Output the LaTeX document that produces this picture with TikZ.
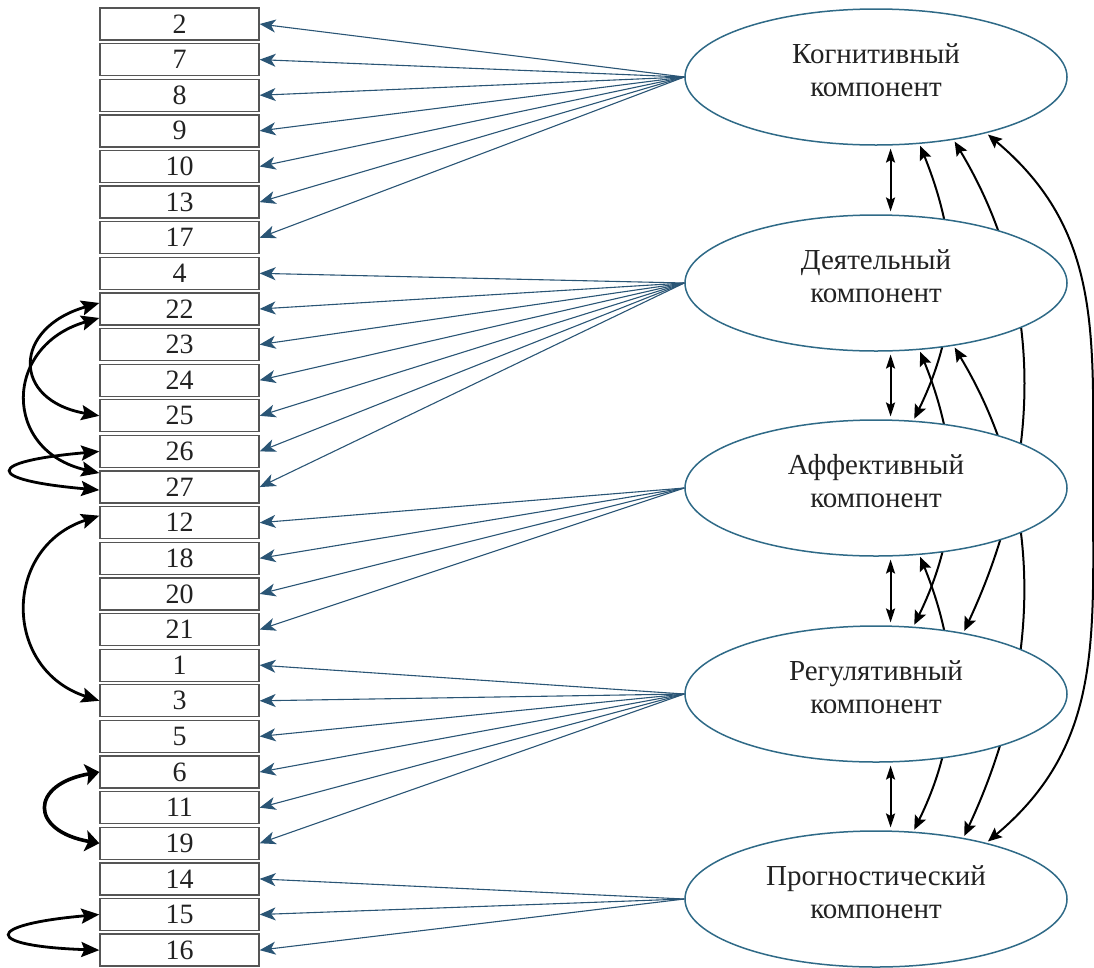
\documentclass[tikz,border=0pt]{standalone}
\usepackage{fontspec}
\setmainfont{Liberation Serif}
\usetikzlibrary{arrows.meta,shapes.geometric}
\pgfdeclarelayer{bg}
\pgfsetlayers{bg,main}
\definecolor{ellc}{HTML}{2F6A87}
\definecolor{loadc}{HTML}{2A5575}
\definecolor{boxc}{HTML}{555555}
\definecolor{txtc}{HTML}{222222}
\begin{document}
\begin{tikzpicture}[x=1pt,y=1pt,
  box/.style={draw=boxc, line width=1.3pt, minimum width=159pt, minimum height=32pt, inner sep=0pt, text=txtc, font=\fontsize{28}{30}\selectfont},
  ell/.style={ellipse, draw=ellc, line width=1.5pt, fill=white, minimum width=382pt, minimum height=136pt, inner sep=0pt, align=center, text=txtc, text depth=14pt, font=\fontsize{29}{33}\selectfont},
  load/.style={draw=loadc, line width=1.1pt, -{Stealth[length=16pt,width=13pt,inset=4.5pt]}},
  cov/.style={black, line width=2pt, {Stealth[length=14pt,width=12pt,inset=2.5pt]}-{Stealth[length=14pt,width=12pt,inset=2.5pt]}, shorten <=2pt, shorten >=2pt},
  vcov/.style={black, line width=2pt, {Stealth[length=14pt,width=9pt,inset=2.5pt]}-{Stealth[length=14pt,width=9pt,inset=2.5pt]}, shorten <=3pt, shorten >=3pt},
  res/.style={black, line width=2.8pt, {Stealth[length=18pt,width=15pt,inset=3pt]}-{Stealth[length=18pt,width=15pt,inset=3pt]}},
  resbig/.style={black, line width=3.6pt, {Stealth[length=14pt,width=21pt,inset=3pt]}-{Stealth[length=14pt,width=21pt,inset=3pt]}}
]
\useasboundingbox (0,0) rectangle (1094,-967);

% observed variables
\foreach \n [count=\i from 0] in {2,7,8,9,10,13,17,4,22,23,24,25,26,27,12,18,20,21,1,3,5,6,11,19,14,15,16}
  \node[box] (b\n) at (179.5,{-24-\i*35.62}) {\n};

% latent factors
\node[ell] (K) at (876,-77) {Когнитивный\\компонент};
\node[ell] (D) at (876,-283) {Деятельный\\компонент};
\node[ell] (A) at (876,-488) {Аффективный\\компонент};
\node[ell] (R) at (876,-694) {Регулятивный\\компонент};
\node[ell] (P) at (876,-899) {Прогностический\\компонент};
\coordinate (kp) at (1093,-486);

% loadings
\foreach \n in {2,7,8,9,10,13,17} \draw[load] (K.west) -- (b\n.east);
\foreach \n in {4,22,23,24,25,26,27} \draw[load] (D.west) -- (b\n.east);
\foreach \n in {12,18,20,21} \draw[load] (A.west) -- (b\n.east);
\foreach \n in {1,3,5,6,11,19} \draw[load] (R.west) -- (b\n.east);
\foreach \n in {14,15,16} \draw[load] (P.west) -- (b\n.east);

% factor covariances
\begin{pgfonlayer}{bg}
\draw[vcov] (K.-78) -- (D.78);
\draw[vcov] (D.-78) -- (A.78);
\draw[vcov] (A.-78) -- (R.78);
\draw[vcov] (R.-78) -- (P.78);
\draw[cov] (K.-57) to[out=-68,in=64] (A.61);
\draw[cov] (D.-57) to[out=-68,in=64] (R.61);
\draw[cov] (A.-57) to[out=-68,in=64] (P.61);
\draw[cov] (K.-39) to[out=-59,in=65,looseness=0.95] (R.35);
\draw[cov] (D.-39) to[out=-59,in=65,looseness=0.95] (P.35);
\draw[cov] (K.-27) to[out=-40,in=90,looseness=1.05] (kp) to[out=-90,in=40,looseness=1.05] (P.27);
\end{pgfonlayer}

% residual covariances
\draw[res] ([yshift=6pt]b22.west) .. controls +(196:90) and +(170:90) .. (b25.west);
\draw[res] ([yshift=-9pt]b22.west) .. controls +(196:100) and +(167:100) .. ([yshift=14pt]b27.west);
\draw[res] (b26.west) .. controls +(185:116) and +(175:116) .. ([yshift=-3pt]b27.west);
\draw[res] ([yshift=7pt]b12.west) .. controls +(198:102) and +(162:102) .. (b3.west);
\draw[resbig] (b6.west) .. controls +(190:71) and +(170:71) .. (b19.west);
\draw[res] (b15.west) .. controls +(185:117) and +(178:117) .. (b16.west);
\end{tikzpicture}
\end{document}
